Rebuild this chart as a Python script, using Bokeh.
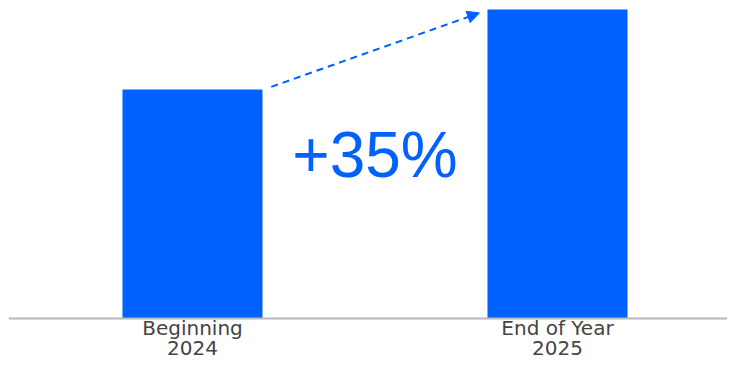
from bokeh.plotting import figure
from bokeh.models import Range1d, Span, Arrow, NormalHead, ColumnDataSource, Label
from bokeh.embed import file_html
from bokeh.resources import INLINE
from bokeh.core.properties import value

# ---- data ----
categories = ["Beginning\n2024", "End of Year\n2025"]
values = [100, 135]

# ---- style ----
BLUE = "#0061FE"
BAR_W = 0.3836
LABEL_FONT = "DejaVu Sans"

xs = list(range(len(categories)))
line1 = [c.split("\n")[0] for c in categories]
line2 = [c.split("\n")[1] for c in categories]
src = ColumnDataSource(dict(x=xs, top=values, line1=line1, line2=line2))

p = figure(width=727, height=360, output_backend="svg", toolbar_location=None,
           x_range=Range1d(-0.5041, 1.4658), y_range=Range1d(-18.35, 138.93),
           min_border=0, min_border_left=8)
p.xaxis.visible = False
p.yaxis.visible = False
p.grid.visible = False
p.outline_line_color = None

p.vbar(x="x", top="top", bottom=0, width=BAR_W, source=src,
       fill_color=BLUE, line_color=None)

p.add_layout(Span(location=0, dimension="width", line_color="#b8b8b8", line_width=2))

p.text(x="x", y=0, text="line1", source=src, y_offset=10,
       text_font=value(LABEL_FONT), text_font_size="20px", text_color="#444444",
       text_align="center", text_baseline="alphabetic")
p.text(x="x", y=0, text="line2", source=src, y_offset=30,
       text_font=value(LABEL_FONT), text_font_size="20px", text_color="#444444",
       text_align="center", text_baseline="alphabetic")

# growth annotation
growth = round((values[1] / values[0] - 1) * 100)
p.add_layout(Label(x=sum(xs) / len(xs), y=71.4, text=f"+{growth}%",
                   text_font="Liberation Sans", text_font_size="64px",
                   text_color=BLUE, text_align="center", text_baseline="alphabetic"))

p.add_layout(Arrow(x_start=xs[0] + BAR_W / 2 + 0.024, y_start=values[0] + 1.2,
                   x_end=xs[1] - BAR_W / 2 - 0.022, y_end=values[1] - 1.5,
                   line_color=BLUE, line_width=2, line_dash="7 5",
                   end=NormalHead(size=12, fill_color=BLUE, line_color=BLUE, line_width=1)))

open("out.html", "w").write(file_html(p, INLINE))
